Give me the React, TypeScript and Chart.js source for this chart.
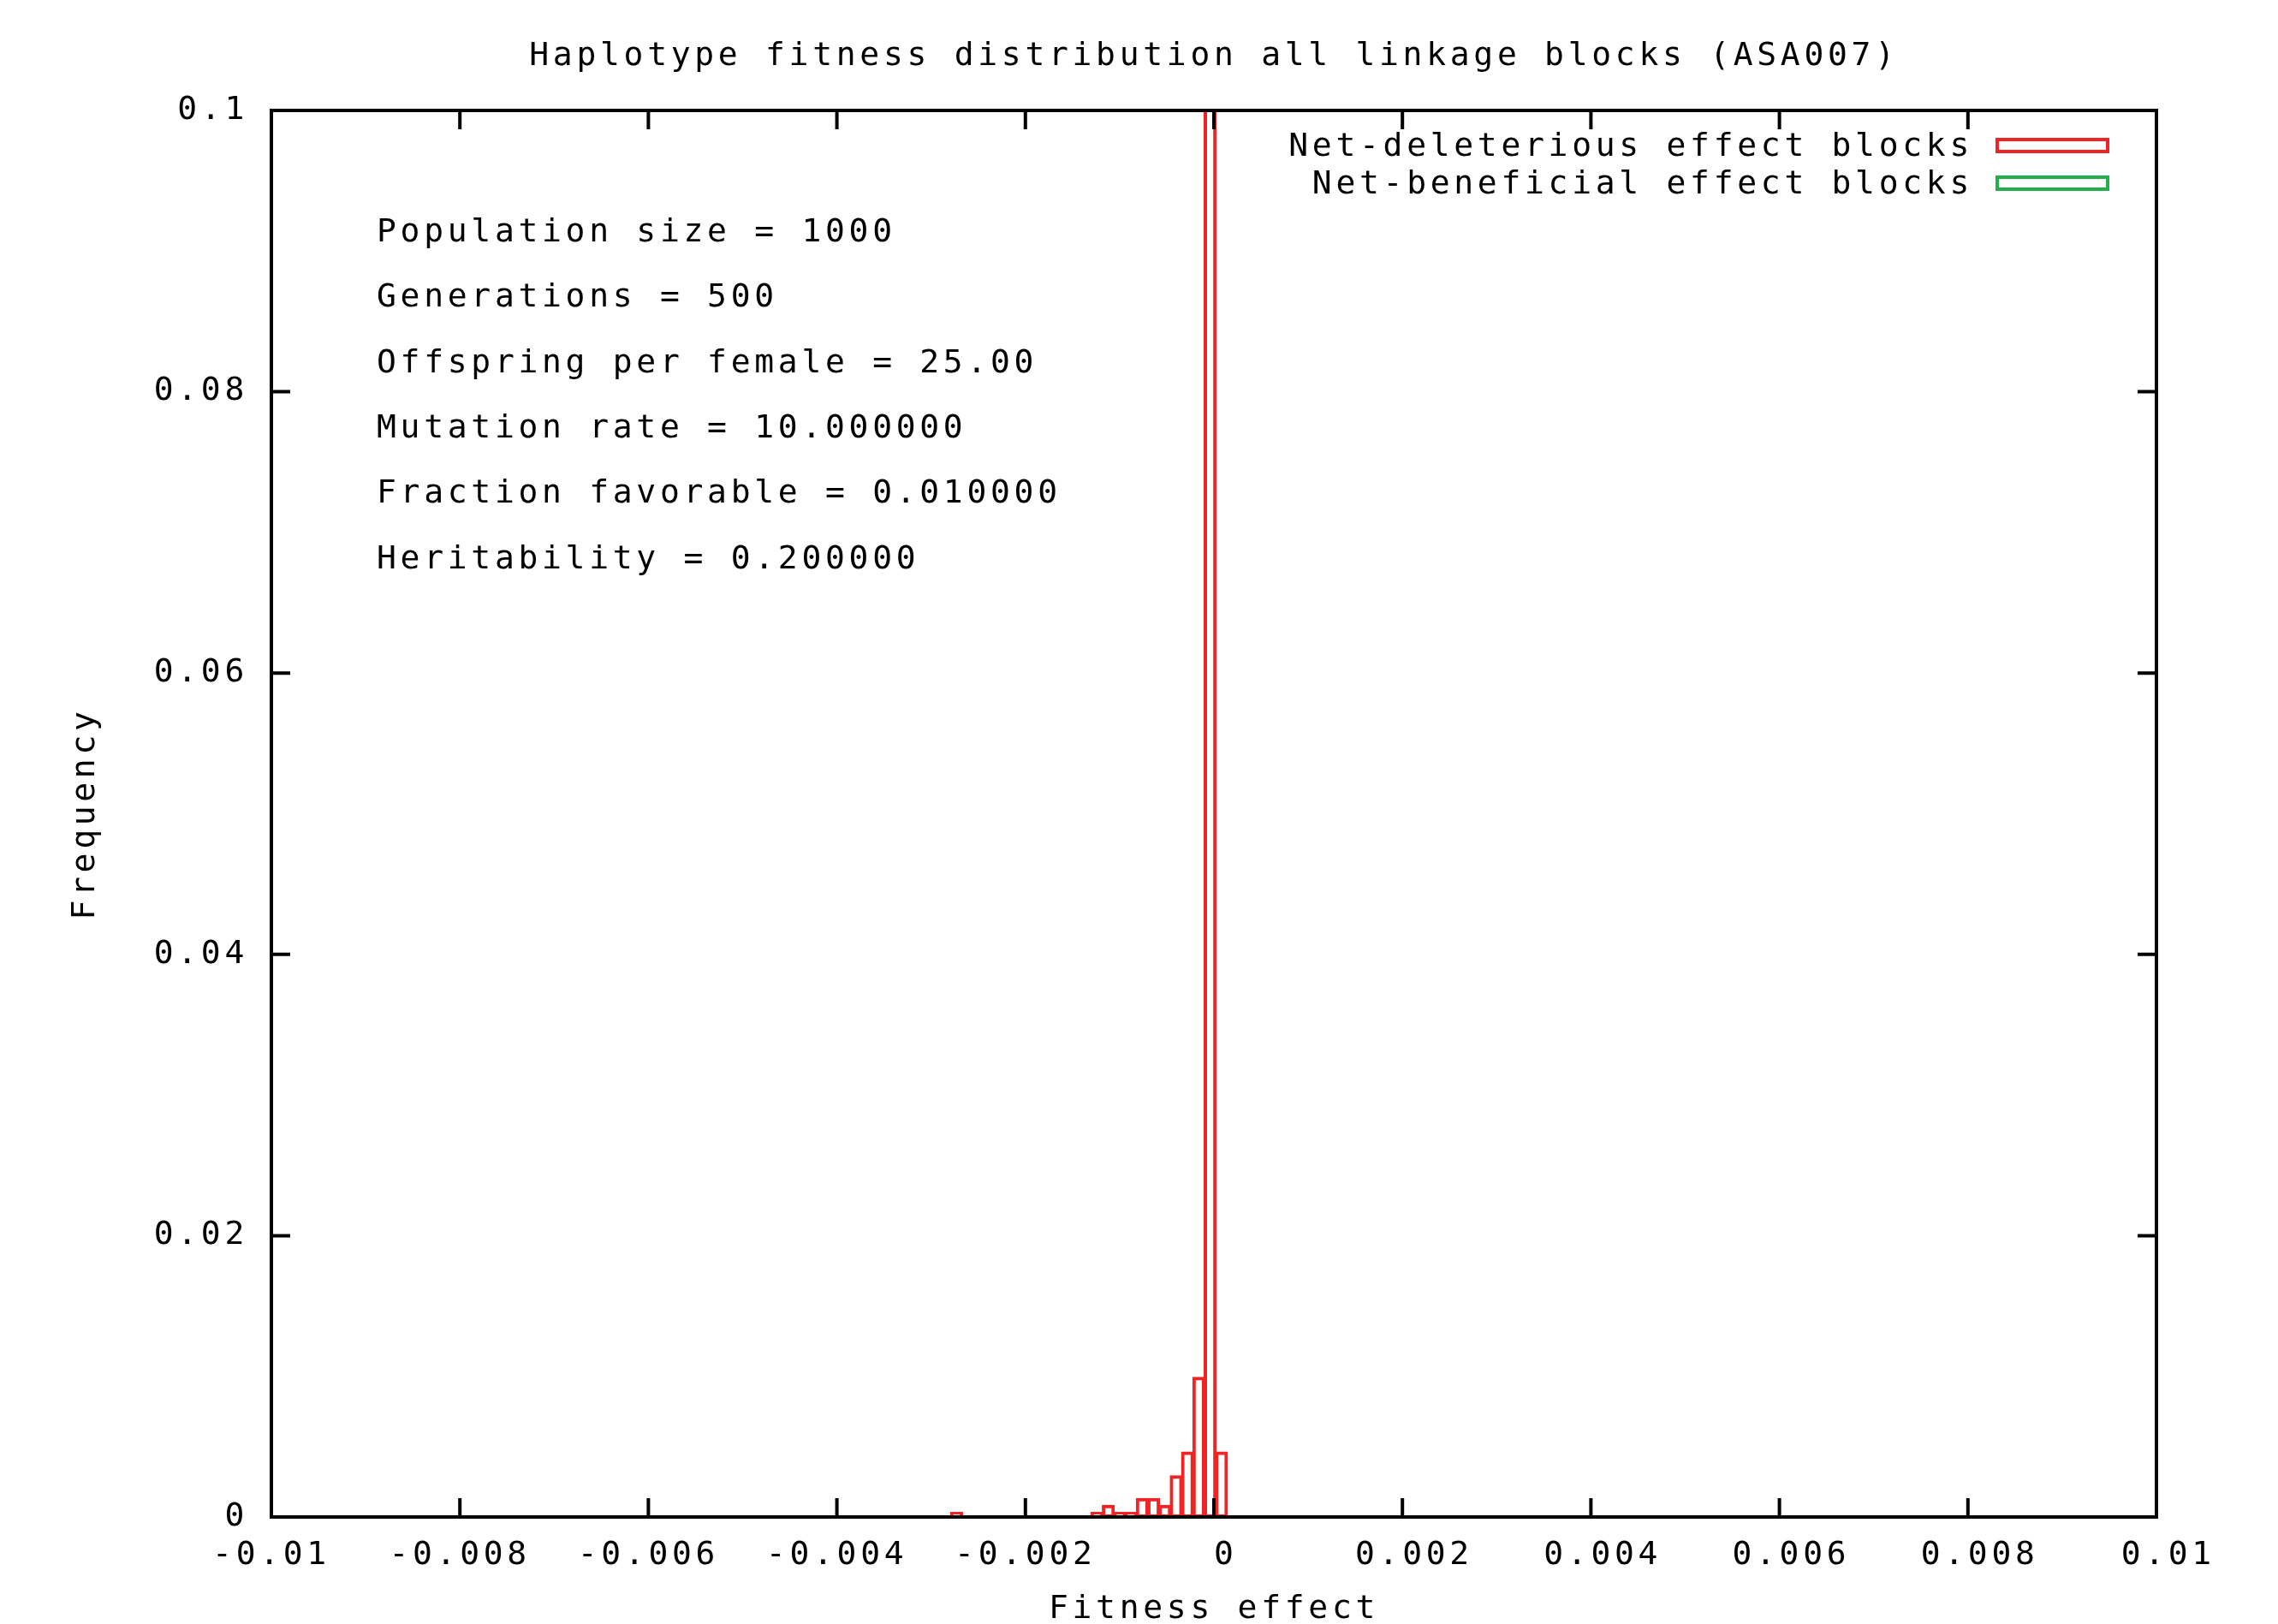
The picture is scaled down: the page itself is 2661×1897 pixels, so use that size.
import React, { useEffect, useRef } from 'react';
import { Chart, registerables } from 'chart.js';

Chart.register(...registerables);

// ---------- data ----------
const chartTitle = 'Haplotype fitness distribution all linkage blocks (ASA007)';
const xAxisTitle = 'Fitness effect';
const yAxisTitle = 'Frequency';
const seriesLabels = ['Net-deleterious effect blocks', 'Net-beneficial effect blocks'];
const seriesColors = ['#f02424', '#22b04a'];

// histogram bin centres (fitness effect) and frequencies
const deleteriousEffect = [-0.00273, -0.00124, -0.00112, -0.001, -0.00088, -0.00076, -0.00064, -0.00052, -0.0004, -0.00028, -0.00016, -0.00004, 0.00008];
const deleteriousFreq = [0.0003, 0.0003, 0.0008, 0.0003, 0.0003, 0.0013, 0.0013, 0.0008, 0.0029, 0.0046, 0.0099, 0.45, 0.0046];
const beneficialEffect: number[] = [];
const beneficialFreq: number[] = [];

const xTickValues = [-0.01, -0.008, -0.006, -0.004, -0.002, 0, 0.002, 0.004, 0.006, 0.008, 0.01];
// gnuplot "% g" style: non-negative labels keep a leading blank for the sign
const xTickLabels = ['-0.01', '-0.008', '-0.006', '-0.004', '-0.002', ' 0', ' 0.002', ' 0.004', ' 0.006', ' 0.008', ' 0.01'];
const yTickValues = [0, 0.02, 0.04, 0.06, 0.08, 0.1];
const yTickLabels = ['0', '0.02', '0.04', '0.06', '0.08', '0.1'];

const infoLines = [
  'Population size = 1000',
  'Generations = 500',
  'Offspring per female = 25.00',
  'Mutation rate = 10.000000',
  'Fraction favorable = 0.010000',
  'Heritability = 0.200000',
];

// ---------- styling ----------
const FONT_FAMILY = '"DejaVu Sans Mono", "Liberation Mono", monospace';
const FONT_SIZE = 38;
const LETTER_SPACING = '4.7px';
const baseFont = { family: FONT_FAMILY, size: FONT_SIZE, weight: 'normal' as const, lineHeight: 1.2 };

const spacingPlugin = {
  id: 'letterSpacing',
  beforeUpdate(chart: any) { chart.ctx.letterSpacing = LETTER_SPACING; },
  beforeLayout(chart: any) { chart.ctx.letterSpacing = LETTER_SPACING; },
  beforeDraw(chart: any) { chart.ctx.letterSpacing = LETTER_SPACING; },
};

const framePlugin = {
  id: 'frameTicks',
  afterDatasetsDraw(chart: any) {
    const { ctx, chartArea: a, scales } = chart;
    const T = 22;
    ctx.save();
    ctx.strokeStyle = '#000';
    ctx.lineWidth = 4;
    ctx.lineCap = 'butt';
    ctx.beginPath();
    scales.x.ticks.forEach((t: any) => {
      const px = scales.x.getPixelForValue(t.value);
      ctx.moveTo(px, a.bottom);
      ctx.lineTo(px, a.bottom - T);
      ctx.moveTo(px, a.top);
      ctx.lineTo(px, a.top + T);
    });
    scales.y.ticks.forEach((t: any) => {
      const py = scales.y.getPixelForValue(t.value);
      ctx.moveTo(a.left, py);
      ctx.lineTo(a.left + T, py);
      ctx.moveTo(a.right, py);
      ctx.lineTo(a.right - T, py);
    });
    ctx.stroke();
    ctx.strokeRect(a.left, a.top, a.right - a.left, a.bottom - a.top);
    ctx.restore();
  },
};

const textPlugin = {
  id: 'infoAndLegend',
  afterDraw(chart: any) {
    const { ctx, chartArea: a } = chart;
    ctx.save();
    ctx.letterSpacing = LETTER_SPACING;
    ctx.font = `normal ${FONT_SIZE}px ${FONT_FAMILY}`;
    ctx.fillStyle = '#000';
    ctx.textBaseline = 'middle';
    ctx.textAlign = 'left';
    infoLines.forEach((line, i) => {
      ctx.fillText(line, a.left + 123, a.top + 143 + i * 76.4);
    });
    // legend (gnuplot style: text right-aligned, then sample box)
    chart.data.datasets.forEach((ds: any, i: number) => {
      const cy = a.top + 43 + i * 44;
      ctx.textAlign = 'right';
      ctx.fillStyle = '#000';
      ctx.fillText(ds.label, a.right - 214, cy);
      ctx.strokeStyle = ds.borderColor;
      ctx.lineWidth = 4;
      ctx.strokeRect(a.right - 186, cy - 9, 129, 14);
    });
    ctx.restore();
  },
};

export default function App() {
  const ref = useRef<HTMLCanvasElement>(null);

  useEffect(() => {
    const canvas = ref.current;
    if (!canvas) return;
    const chart = new Chart(canvas, {
      type: 'bar',
      data: {
        datasets: [
          {
            label: seriesLabels[0],
            data: deleteriousEffect.map((x, i) => ({ x, y: deleteriousFreq[i] })),
            backgroundColor: 'rgba(0,0,0,0)',
            borderColor: seriesColors[0],
            borderWidth: 2,
            inflateAmount: 1,
            borderSkipped: false,
            grouped: false,
            barPercentage: 1,
            categoryPercentage: 1,
            clip: 0,
          } as any,
          {
            label: seriesLabels[1],
            data: beneficialEffect.map((x, i) => ({ x, y: beneficialFreq[i] })),
            backgroundColor: 'rgba(0,0,0,0)',
            borderColor: seriesColors[1],
            borderWidth: 2,
            inflateAmount: 1,
            borderSkipped: false,
            grouped: false,
            barPercentage: 1,
            categoryPercentage: 1,
            clip: 0,
          } as any,
        ],
      },
      options: {
        responsive: false,
        animation: false,
        devicePixelRatio: 1,
        color: '#000',
        layout: { padding: { left: 0, top: 0, right: 142, bottom: 0 } },
        plugins: {
          legend: { display: false },
          tooltip: { enabled: false },
          title: {
            display: true,
            text: chartTitle,
            fullSize: false,
            color: '#000',
            font: baseFont,
            padding: { top: 43.2, bottom: 40.2 },
          },
        },
        scales: {
          x: {
            type: 'linear',
            min: -0.01,
            max: 0.01,
            offset: false,
            grid: { display: false, drawTicks: false },
            border: { display: false },
            afterBuildTicks: (s: any) => { s.ticks = xTickValues.map((v) => ({ value: v })); },
            ticks: {
              autoSkip: false,
              maxRotation: 0,
              minRotation: 0,
              padding: 22.2,
              color: '#000',
              font: baseFont,
              callback: (_v: any, i: number) => xTickLabels[i],
            },
            title: {
              display: true,
              text: xAxisTitle,
              color: '#000',
              font: { ...baseFont, lineHeight: 0.9 },
              padding: { top: 0, bottom: 0 },
            },
            afterFit: (s: any) => { s.height = 125; s.paddingLeft = 0; s.paddingRight = 0; },
          },
          y: {
            type: 'linear',
            min: 0,
            max: 0.1,
            grid: { display: false, drawTicks: false },
            border: { display: false },
            afterBuildTicks: (s: any) => { s.ticks = yTickValues.map((v) => ({ value: v })); },
            ticks: {
              padding: 27,
              color: '#000',
              font: baseFont,
              callback: (_v: any, i: number) => yTickLabels[i],
            },
            title: {
              display: true,
              text: yAxisTitle,
              color: '#000',
              font: baseFont,
              padding: { top: 77.2, bottom: 0 },
            },
            afterFit: (s: any) => { s.width = 317; s.paddingTop = 0; s.paddingBottom = 0; },
          },
        },
      } as any,
      plugins: [spacingPlugin, framePlugin, textPlugin],
    });
    return () => chart.destroy();
  }, []);

  return (
    <canvas
      ref={ref}
      width={2661}
      height={1897}
      style={{ position: 'fixed', left: 0, top: 0, width: '2661px', height: '1897px', display: 'block', background: '#fff' }}
    />
  );
}
